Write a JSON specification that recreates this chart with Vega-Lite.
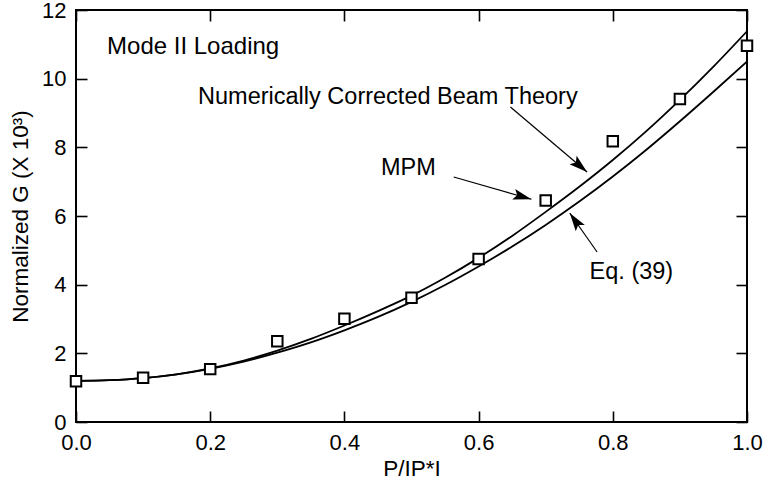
{
  "$schema": "https://vega.github.io/schema/vega-lite/v6.json",
  "width": 671,
  "height": 412,
  "autosize": "none",
  "padding": {"left": 76, "top": 10, "right": 16, "bottom": 64},
  "background": "white",
  "datasets": {
    "curves": [
      {"x": 0.00, "G": 1.20, "series": "NCBT"},
      {"x": 0.05, "G": 1.22, "series": "NCBT"},
      {"x": 0.10, "G": 1.28, "series": "NCBT"},
      {"x": 0.15, "G": 1.39, "series": "NCBT"},
      {"x": 0.20, "G": 1.56, "series": "NCBT"},
      {"x": 0.25, "G": 1.79, "series": "NCBT"},
      {"x": 0.30, "G": 2.08, "series": "NCBT"},
      {"x": 0.35, "G": 2.42, "series": "NCBT"},
      {"x": 0.40, "G": 2.81, "series": "NCBT"},
      {"x": 0.45, "G": 3.23, "series": "NCBT"},
      {"x": 0.50, "G": 3.68, "series": "NCBT"},
      {"x": 0.55, "G": 4.20, "series": "NCBT"},
      {"x": 0.60, "G": 4.78, "series": "NCBT"},
      {"x": 0.65, "G": 5.42, "series": "NCBT"},
      {"x": 0.70, "G": 6.12, "series": "NCBT"},
      {"x": 0.75, "G": 6.85, "series": "NCBT"},
      {"x": 0.80, "G": 7.63, "series": "NCBT"},
      {"x": 0.85, "G": 8.47, "series": "NCBT"},
      {"x": 0.90, "G": 9.38, "series": "NCBT"},
      {"x": 0.95, "G": 10.35, "series": "NCBT"},
      {"x": 1.00, "G": 11.38, "series": "NCBT"},
      {"x": 0.00, "G": 1.20, "series": "Eq39"},
      {"x": 0.05, "G": 1.22, "series": "Eq39"},
      {"x": 0.10, "G": 1.28, "series": "Eq39"},
      {"x": 0.15, "G": 1.39, "series": "Eq39"},
      {"x": 0.20, "G": 1.55, "series": "Eq39"},
      {"x": 0.25, "G": 1.76, "series": "Eq39"},
      {"x": 0.30, "G": 2.02, "series": "Eq39"},
      {"x": 0.35, "G": 2.32, "series": "Eq39"},
      {"x": 0.40, "G": 2.67, "series": "Eq39"},
      {"x": 0.45, "G": 3.06, "series": "Eq39"},
      {"x": 0.50, "G": 3.50, "series": "Eq39"},
      {"x": 0.55, "G": 3.99, "series": "Eq39"},
      {"x": 0.60, "G": 4.53, "series": "Eq39"},
      {"x": 0.65, "G": 5.11, "series": "Eq39"},
      {"x": 0.70, "G": 5.74, "series": "Eq39"},
      {"x": 0.75, "G": 6.42, "series": "Eq39"},
      {"x": 0.80, "G": 7.15, "series": "Eq39"},
      {"x": 0.85, "G": 7.93, "series": "Eq39"},
      {"x": 0.90, "G": 8.76, "series": "Eq39"},
      {"x": 0.95, "G": 9.62, "series": "Eq39"},
      {"x": 1.00, "G": 10.50, "series": "Eq39"}
    ],
    "mpm": [
      {"x": 0.0, "G": 1.19},
      {"x": 0.1, "G": 1.29},
      {"x": 0.2, "G": 1.54},
      {"x": 0.3, "G": 2.35},
      {"x": 0.4, "G": 3.01},
      {"x": 0.5, "G": 3.62},
      {"x": 0.6, "G": 4.75},
      {"x": 0.7, "G": 6.45},
      {"x": 0.8, "G": 8.18},
      {"x": 0.9, "G": 9.41},
      {"x": 1.0, "G": 10.96}
    ],
    "arrows": [
      {"x": 0.6474, "G": 9.176, "x2": 0.7617, "G2": 7.282, "angle": 130.3},
      {"x": 0.5629, "G": 7.137, "x2": 0.6787, "G2": 6.487, "angle": 106},
      {"x": 0.7766, "G": 4.952, "x2": 0.7358, "G2": 6.088, "angle": 325}
    ],
    "labels": [
      {"x": 0.4648, "G": 9.275, "text": "Numerically Corrected Beam Theory"},
      {"x": 0.4954, "G": 7.186, "text": "MPM"},
      {"x": 0.8277, "G": 4.157, "text": "Eq. (39)"}
    ],
    "corner": [
      {"x": 0.0463, "G": 10.71, "text": "Mode II Loading"}
    ]
  },
  "layer": [
    {
      "data": {"name": "curves"},
      "mark": {"type": "line", "color": "black", "strokeWidth": 1.8, "interpolate": "monotone", "clip": true},
      "encoding": {
        "x": {"field": "x", "type": "quantitative", "scale": {"domain": [0, 1], "nice": false},
              "axis": {"orient": "bottom", "values": [0, 0.2, 0.4, 0.6, 0.8, 1.0], "format": ".1f", "title": "P/IP*I", "titlePadding": 4}},
        "y": {"field": "G", "type": "quantitative", "scale": {"domain": [0, 12], "nice": false},
              "axis": {"orient": "left", "values": [0, 2, 4, 6, 8, 10, 12], "format": "d", "title": "Normalized G (X 10³)", "titlePadding": 9}},
        "detail": {"field": "series"}
      }
    },
    {
      "data": {"name": "mpm"},
      "mark": {"type": "point", "shape": "square", "size": 110, "filled": true, "fill": "white", "stroke": "black", "strokeWidth": 2, "opacity": 1},
      "encoding": {
        "x": {"field": "x", "type": "quantitative", "scale": {"domain": [0, 1], "nice": false},
              "axis": {"orient": "top", "values": [0, 0.2, 0.4, 0.6, 0.8, 1.0], "labels": false, "title": null}},
        "y": {"field": "G", "type": "quantitative", "scale": {"domain": [0, 12], "nice": false},
              "axis": {"orient": "right", "values": [0, 2, 4, 6, 8, 10, 12], "labels": false, "title": null}}
      }
    },
    {
      "data": {"name": "arrows"},
      "mark": {"type": "rule", "color": "black", "strokeWidth": 1.2},
      "encoding": {
        "x": {"field": "x", "type": "quantitative", "axis": null},
        "y": {"field": "G", "type": "quantitative", "axis": null},
        "x2": {"field": "x2"},
        "y2": {"field": "G2"}
      }
    },
    {
      "data": {"name": "arrows"},
      "mark": {"type": "point", "shape": "M0,0L0.6,2L0,1.6L-0.6,2Z", "size": 340, "filled": true, "color": "black", "opacity": 1, "strokeWidth": 0},
      "encoding": {
        "x": {"field": "x2", "type": "quantitative", "axis": null},
        "y": {"field": "G2", "type": "quantitative", "axis": null},
        "angle": {"field": "angle", "type": "quantitative", "scale": null}
      }
    },
    {
      "data": {"name": "labels"},
      "mark": {"type": "text", "align": "center", "baseline": "alphabetic", "fontSize": 23.5, "font": "Liberation Sans", "color": "black"},
      "encoding": {
        "x": {"field": "x", "type": "quantitative", "axis": null},
        "y": {"field": "G", "type": "quantitative", "axis": null},
        "text": {"field": "text"}
      }
    },
    {
      "data": {"name": "corner"},
      "mark": {"type": "text", "align": "left", "baseline": "alphabetic", "fontSize": 24, "font": "Liberation Sans", "color": "black"},
      "encoding": {
        "x": {"field": "x", "type": "quantitative", "axis": null},
        "y": {"field": "G", "type": "quantitative", "axis": null},
        "text": {"field": "text"}
      }
    }
  ],
  "resolve": {"axis": {"x": "independent", "y": "independent"}},
  "config": {
    "font": "Liberation Sans",
    "view": {"stroke": "black", "strokeWidth": 2},
    "axis": {
      "grid": false,
      "domain": false,
      "tickColor": "black",
      "tickWidth": 1.6,
      "tickSize": -11,
      "labelColor": "black",
      "labelFontSize": 22,
      "labelPadding": 21,
      "titleColor": "black",
      "titleFontSize": 22.5,
      "titleFontWeight": "normal",
      "labelFlush": false,
      "labelOverlap": false
    }
  }
}
